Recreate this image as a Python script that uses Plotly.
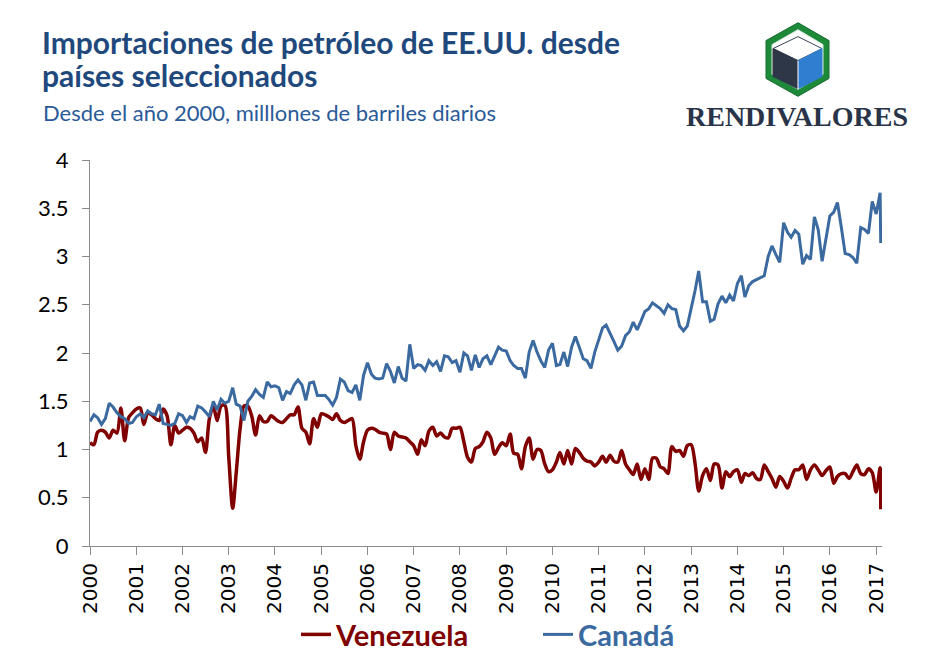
import plotly.graph_objects as go
import pandas as pd

# ---------------- data ----------------
start_month = "2000-01-01"
latest_reading_date = "2017-02-06"

venezuela_monthly = [
    1.07, 1.05, 1.18, 1.20, 1.18, 1.12, 1.20, 1.17, 1.43, 1.09, 1.33, 1.38,  # 2000
    1.42, 1.43, 1.26, 1.38, 1.36, 1.32, 1.30, 1.42, 1.35, 1.05, 1.25, 1.17,  # 2001
    1.20, 1.23, 1.22, 1.17, 1.08, 1.12, 0.97, 1.32, 1.45, 1.30, 1.45, 1.46,  # 2002
    0.92, 0.39, 0.76, 1.22, 1.45, 1.45, 1.35, 1.15, 1.35, 1.29, 1.29, 1.35,  # 2003
    1.32, 1.29, 1.28, 1.32, 1.36, 1.36, 1.44, 1.22, 1.18, 1.06, 1.32, 1.23,  # 2004
    1.37, 1.36, 1.34, 1.31, 1.37, 1.30, 1.28, 1.30, 1.32, 1.04, 0.90, 1.08,  # 2005
    1.20, 1.22, 1.21, 1.18, 1.17, 1.16, 1.00, 1.18, 1.14, 1.13, 1.12, 1.08,  # 2006
    1.04, 0.95, 1.10, 1.04, 1.19, 1.23, 1.14, 1.17, 1.13, 1.12, 1.22, 1.22,  # 2007
    1.23, 1.08, 0.92, 0.87, 1.01, 1.03, 1.08, 1.18, 1.12, 0.95, 1.02, 1.07,  # 2008
    1.04, 1.16, 0.96, 0.95, 0.80, 1.03, 1.12, 0.90, 1.00, 0.99, 0.85, 0.77,  # 2009
    0.79, 0.87, 0.97, 0.85, 0.99, 0.85, 1.01, 0.97, 0.91, 0.88, 0.87, 0.83,  # 2010
    0.87, 0.93, 0.87, 0.94, 0.88, 0.87, 0.99, 0.85, 0.79, 0.74, 0.85, 0.69,  # 2011
    0.80, 0.69, 0.91, 0.91, 0.82, 0.80, 0.75, 1.03, 0.98, 0.99, 0.93, 1.04,  # 2012
    1.05, 0.85, 0.57, 0.73, 0.80, 0.68, 0.85, 0.84, 0.60, 0.77, 0.72, 0.77,  # 2013
    0.79, 0.66, 0.75, 0.73, 0.76, 0.70, 0.69, 0.84, 0.77, 0.70, 0.61, 0.72,  # 2014
    0.67, 0.60, 0.70, 0.79, 0.79, 0.84, 0.69, 0.79, 0.84, 0.79, 0.73, 0.78,  # 2015
    0.82, 0.65, 0.72, 0.75, 0.75, 0.70, 0.77, 0.84, 0.75, 0.74, 0.80, 0.76,  # 2016
    0.56, 0.81,                                                              # 2017
]
venezuela_latest = 0.38

canada_monthly = [
    1.29, 1.36, 1.33, 1.26, 1.32, 1.48, 1.44, 1.38, 1.34, 1.32, 1.27, 1.28,  # 2000
    1.34, 1.37, 1.33, 1.40, 1.37, 1.36, 1.47, 1.27, 1.26, 1.25, 1.27, 1.37,  # 2001
    1.35, 1.28, 1.34, 1.32, 1.45, 1.43, 1.39, 1.34, 1.50, 1.41, 1.52, 1.48,  # 2002
    1.50, 1.64, 1.47, 1.45, 1.30, 1.50, 1.55, 1.62, 1.57, 1.54, 1.70, 1.65,  # 2003
    1.66, 1.64, 1.51, 1.60, 1.58, 1.67, 1.72, 1.67, 1.51, 1.69, 1.70, 1.56,  # 2004
    1.56, 1.56, 1.52, 1.46, 1.54, 1.73, 1.70, 1.61, 1.59, 1.67, 1.51, 1.77,  # 2005
    1.90, 1.78, 1.74, 1.73, 1.74, 1.89, 1.81, 1.69, 1.86, 1.74, 1.71, 2.09,  # 2006
    1.84, 1.88, 1.87, 1.82, 1.92, 1.87, 1.91, 1.81, 1.97, 1.96, 1.90, 1.92,  # 2007
    1.80, 2.00, 1.97, 1.82, 1.98, 1.85, 1.94, 1.97, 1.88, 1.96, 2.06, 2.03,  # 2008
    2.02, 1.92, 1.87, 1.84, 1.84, 1.74, 2.01, 2.13, 2.01, 1.92, 1.85, 2.03,  # 2009
    2.10, 1.87, 1.88, 2.01, 1.86, 2.06, 2.17, 2.06, 1.94, 1.92, 1.84, 2.01,  # 2010
    2.14, 2.26, 2.29, 2.21, 2.12, 2.03, 2.07, 2.18, 2.22, 2.32, 2.24, 2.33,  # 2011
    2.43, 2.46, 2.52, 2.49, 2.46, 2.41, 2.50, 2.46, 2.45, 2.28, 2.23, 2.28,  # 2012
    2.45, 2.65, 2.85, 2.53, 2.53, 2.33, 2.35, 2.51, 2.59, 2.52, 2.60, 2.54,  # 2013
    2.72, 2.80, 2.58, 2.70, 2.74, 2.76, 2.78, 2.80, 3.00, 3.11, 3.02, 2.94,  # 2014
    3.35, 3.25, 3.20, 3.27, 3.23, 2.92, 3.01, 2.97, 3.41, 3.28, 2.95, 3.19,  # 2015
    3.42, 3.46, 3.56, 3.30, 3.03, 3.02, 2.99, 2.93, 3.30, 3.28, 3.24, 3.57,  # 2016
    3.44, 3.66,                                                              # 2017
]
canada_latest = 3.14

tick_years = list(range(2000, 2018))
y_tick_values = [0, 0.5, 1, 1.5, 2, 2.5, 3, 3.5, 4]
y_tick_labels = ["0", "0.5", "1", "1.5", "2", "2.5", "3", "3.5", "4"]

series_names = ["Venezuela", "Canadá"]
title_lines = ["Importaciones de petróleo de EE.UU. desde", "países seleccionados"]
subtitle_text = "Desde el año 2000, milllones de barriles diarios"
brand_text = "RENDIVALORES"

# ---------------- styling ----------------
W, H = 941, 672
ML, MR, MT, MB = 90, 59, 160, 124
VEN_COLOR = "#800000"
CAN_COLOR = "#3b6aa0"
AXIS_COLOR = "#8c8c8c"
TITLE_COLOR = "#1f497d"
SUB_COLOR = "#2a5a98"
FONT = "Lato, 'Open Sans', sans-serif"

plot_w = W - ML - MR
plot_h = H - MT - MB


def px(x):
    return (x - ML) / plot_w


def py(y):
    return (H - MB - y) / plot_h


monthly_dates = list(pd.date_range(start_month, periods=len(canada_monthly), freq="MS"))
dates = monthly_dates + [pd.Timestamp(latest_reading_date)]
venezuela = venezuela_monthly + [venezuela_latest]
canada = canada_monthly + [canada_latest]

fig = go.Figure()
fig.add_trace(go.Scatter(
    x=dates, y=venezuela, mode="lines",
    name=f"<b><span style='color:{VEN_COLOR}'>{series_names[0]}</span></b>",
    line=dict(color=VEN_COLOR, width=3.5, shape="spline", smoothing=0.8),
    hoverinfo="skip",
))
fig.add_trace(go.Scatter(
    x=dates, y=canada, mode="lines",
    name=f"<b><span style='color:{CAN_COLOR}'>{series_names[1]}</span></b>",
    line=dict(color=CAN_COLOR, width=3),
    hoverinfo="skip",
))

tick_dates = [pd.Timestamp(f"{y}-01-01") for y in tick_years]

fig.update_layout(
    width=W, height=H,
    margin=dict(l=ML, r=MR, t=MT, b=MB, pad=0),
    paper_bgcolor="white", plot_bgcolor="white",
    font=dict(family=FONT, color="black"),
    showlegend=True,
    legend=dict(
        orientation="h", x=px(296), xanchor="left", y=py(637), yanchor="middle",
        font=dict(size=29, family="Lato, sans-serif"),
        entrywidth=197, itemwidth=30, bgcolor="rgba(0,0,0,0)",
    ),
    xaxis=dict(
        type="date",
        range=[pd.Timestamp("2000-01-01"), pd.Timestamp("2017-02-16")],
        tickvals=tick_dates, ticktext=[str(y) for y in tick_years],
        tickangle=-90, tickfont=dict(size=20, family="'DejaVu Sans', sans-serif"),
        ticks="outside", ticklen=8, tickcolor=AXIS_COLOR, tickwidth=1,
        showline=True, linecolor=AXIS_COLOR, linewidth=1,
        showgrid=False, zeroline=False, fixedrange=True,
    ),
    yaxis=dict(
        range=[0, 4], tickvals=y_tick_values, ticktext=y_tick_labels,
        tickfont=dict(size=22, family=FONT),
        ticks="outside", ticklen=7, tickcolor=AXIS_COLOR, tickwidth=1,
        ticklabelstandoff=9,
        showline=True, linecolor=AXIS_COLOR, linewidth=1,
        showgrid=False, zeroline=False, fixedrange=True,
    ),
)

# titles
for line_text, cy in zip(title_lines, [41, 75]):
    fig.add_annotation(
        xref="paper", yref="paper", x=px(40), y=py(cy), xanchor="left", yanchor="middle",
        text=f"<b>{line_text}</b>", showarrow=False, align="left",
        font=dict(size=30, color=TITLE_COLOR, family=FONT),
    )
fig.add_annotation(
    xref="paper", yref="paper", x=px(41), y=py(112), xanchor="left", yanchor="middle",
    text=subtitle_text, showarrow=False, align="left",
    font=dict(size=22, color=SUB_COLOR, family=FONT),
)

# logo
def poly(points):
    return "M " + " L ".join(f"{px(x)},{py(y)}" for x, y in points) + " Z"

hex_outer = [(798, 22), (829, 40), (829, 78), (798, 96), (766, 78), (766, 40)]
hex_inner = [(798, 29), (823, 44), (823, 74), (798, 89), (772, 74), (772, 44)]
left_face = [(773, 48), (797, 60), (797, 88), (773, 76)]
right_face = [(799, 60), (822, 48), (822, 76), (799, 88)]
top_face = [(798, 36), (822, 48), (798, 60), (773, 48)]
for pts, fill, line in [
    (hex_outer, "#1d8a3a", "#176b2e"),
    (hex_inner, "white", "#d8e8dc"),
    (top_face, "white", "#3a4456"),
    (left_face, "#2e3748", "#2e3748"),
    (right_face, "#2f7ed0", "#2f7ed0"),
]:
    fig.add_shape(type="path", path=poly(pts), xref="paper", yref="paper",
                  fillcolor=fill, line=dict(color=line, width=1), layer="above")

fig.add_annotation(
    xref="paper", yref="paper", x=px(797), y=py(116), xanchor="center", yanchor="middle",
    text=f"<b>{brand_text}</b>", showarrow=False,
    font=dict(size=28, color="#2a3448", family="'Liberation Serif', 'Times New Roman', serif"),
)

fig.write_html("out.html")
